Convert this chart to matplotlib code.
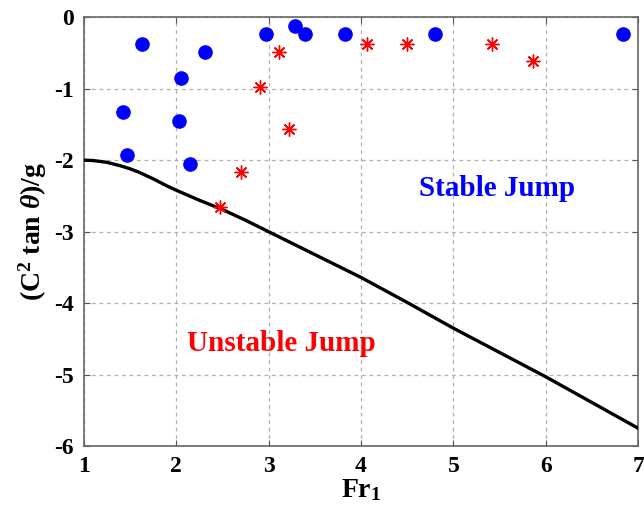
import matplotlib
matplotlib.use("Agg")
from matplotlib import pyplot as plt

# stable jump measurements (blue circles)
stable_fr = [1.63, 2.31, 2.05, 1.43, 2.03, 1.47, 2.15, 2.97, 3.29, 3.39, 3.83, 4.80, 6.84]
stable_y = [-0.37, -0.49, -0.85, -1.33, -1.45, -1.93, -2.05, -0.24, -0.13, -0.24, -0.24, -0.24, -0.24]

# unstable jump measurements (red asterisks)
unstable_fr = [3.11, 2.91, 3.22, 2.70, 2.48, 4.07, 4.50, 5.42, 5.86]
unstable_y = [-0.49, -0.97, -1.57, -2.17, -2.65, -0.37, -0.37, -0.37, -0.61]

# boundary curve
curve_fr = [1.0, 1.1, 1.25, 1.4, 1.5, 1.6, 1.75, 1.9, 2.0, 2.25, 2.5, 2.75, 3.0, 3.5, 4.0,
            4.5, 5.0, 5.5, 6.0, 6.5, 7.0]
curve_y = [-2.0, -2.005, -2.03, -2.08, -2.12, -2.17, -2.26, -2.36, -2.42, -2.56, -2.69, -2.84,
           -3.0, -3.32, -3.64, -3.99, -4.35, -4.69, -5.03, -5.39, -5.75]

plt.rcParams["font.family"] = "Liberation Serif"
plt.rcParams["font.weight"] = "bold"
plt.rcParams["axes.unicode_minus"] = False
plt.rcParams["mathtext.fontset"] = "custom"
plt.rcParams["mathtext.rm"] = "Liberation Serif:bold"
plt.rcParams["mathtext.it"] = "Liberation Serif:bold:italic"
plt.rcParams["mathtext.bf"] = "Liberation Serif:bold"

fig = plt.figure(figsize=(6.44, 5.2), dpi=100)
ax = fig.add_axes([0.130, 0.142, 0.861, 0.825])

ax.plot(curve_fr, curve_y, color="black", linewidth=2.4, zorder=3)
ax.plot(stable_fr, stable_y, linestyle="none", marker="o", markersize=9.5,
        color="#0000ff", zorder=4)
ax.plot(unstable_fr, unstable_y, linestyle="none", marker=(8, 2, 0), markersize=10,
        markeredgecolor="#ff0000", markeredgewidth=1.0, zorder=4)

ax.text(5.47, -2.39, "Stable Jump", color="#0000ff", fontsize=21, fontweight="bold",
        ha="center", va="center")
ax.text(3.14, -4.56, "Unstable Jump", color="#ff0000", fontsize=21, fontweight="bold",
        ha="center", va="center")

ax.set_xlim(1, 7)
ax.set_ylim(-6, 0)
ax.set_xticks(range(1, 8))
ax.set_yticks(range(-6, 1))
ax.tick_params(direction="in", top=True, right=True, labelsize=17, length=4,
               color="#555555", pad=7)
for lbl in ax.get_xticklabels() + ax.get_yticklabels():
    lbl.set_fontweight("bold")
for sp in ax.spines.values():
    sp.set_color("#666666")
    sp.set_linewidth(1.2)
ax.grid(True, linestyle=(0, (3, 3)), color="#b0b0b0", linewidth=0.9)

ax.set_xlabel(r"Fr$_{\mathbf{1}}$", fontsize=20, fontweight="bold", labelpad=0)
ax.set_ylabel(r"(C$^{\mathbf{2}}$ tan $\theta$)/g", fontsize=20, fontweight="bold", labelpad=4)

fig.savefig("out.png", dpi=100)
